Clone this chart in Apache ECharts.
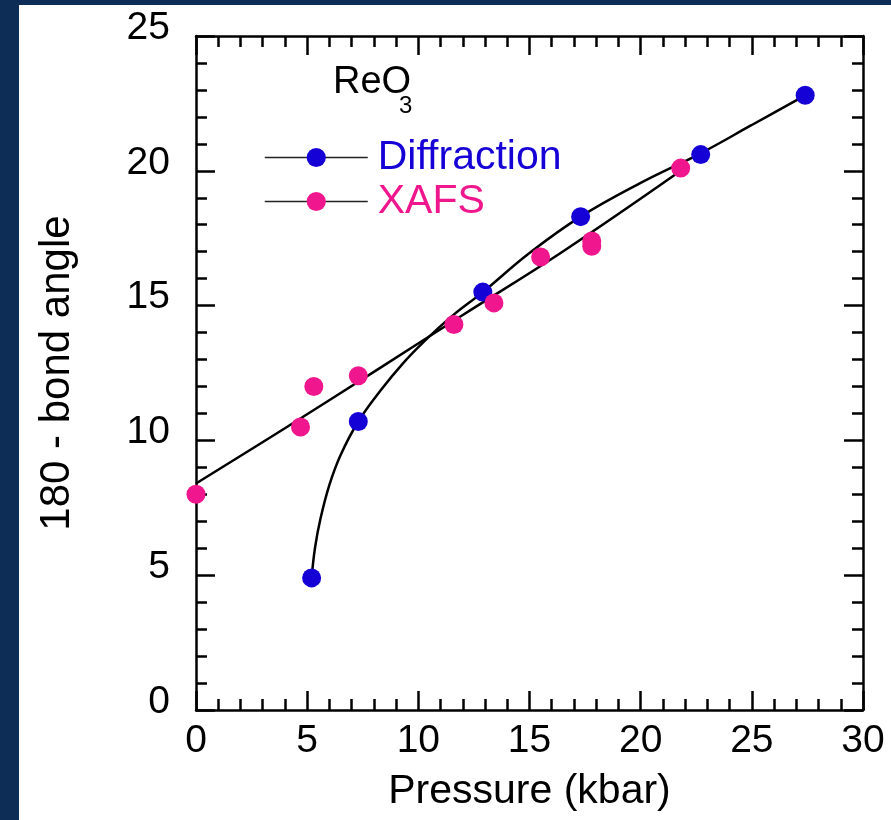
<!DOCTYPE html>
<html>
<head>
<meta charset="utf-8">
<script src="https://cdn.jsdelivr.net/npm/echarts@6/dist/echarts.min.js"></script>
<style>
  html, body { margin: 0; padding: 0; background: #0e2d56; width: 891px; height: 820px; overflow: hidden; }
  #chart { position: absolute; left: 19px; top: 5px; width: 872px; height: 815px; background: #ffffff; }
</style>
</head>
<body>
<div id="chart"></div>
<script>
// Measured points: tilt (180 - Re-O-Re bond angle) versus pressure
const diffPressure = [5.2, 7.3, 12.9, 17.3, 22.7, 27.4];
const diffAngle    = [4.9, 10.7, 15.5, 18.3, 20.6, 22.8];

const xafsPressure = [0, 4.7, 5.3, 7.3, 11.6, 13.4, 15.5, 17.8, 17.8, 21.8];
const xafsAngle    = [8.0, 10.5, 12.0, 12.4, 14.3, 15.1, 16.8, 17.4, 17.2, 20.1];

// Guide curves drawn through each data set
const diffCurvePressure = [5.2, 5.35, 5.6, 6.0, 6.5, 7.3, 8.3, 9.3, 10.3, 11.5, 12.9, 15.0, 17.3, 20.0, 22.7, 25.0, 27.4];
const diffCurveAngle    = [4.9, 6.0, 7.1, 8.35, 9.45, 10.7, 11.85, 12.85, 13.7, 14.6, 15.5, 16.95, 18.3, 19.55, 20.65, 21.7, 22.8];

const xafsCurvePressure = [0, 4, 8.3, 12, 16.4, 21.8];
const xafsCurveAngle    = [8.4, 10.45, 12.7, 14.65, 16.95, 20.0];

// Axis ranges and tick steps
const xRange = [0, 30], xStep = 5;
const yRange = [0, 25], yStep = 5;

const FONT = 'Liberation Sans, Arial, sans-serif';
const BLUE = '#1500d6';
const PINK = '#f0168d';

const zip = (xs, ys) => xs.map((x, i) => [x, ys[i]]);

function frameAxis(extra) {
  return Object.assign({
    type: 'value',
    axisLine: { show: true, onZero: false, lineStyle: { color: '#000', width: 2.5 } },
    axisTick: { show: true, inside: true, length: 19, lineStyle: { color: '#000', width: 2.5 } },
    minorTick: { show: true, splitNumber: 5, length: 11, lineStyle: { color: '#000', width: 2.5 } },
    splitLine: { show: false },
    minorSplitLine: { show: false }
  }, extra);
}

const labelStyle = { show: true, color: '#000', fontSize: 39, fontFamily: FONT };

const chart = echarts.init(document.getElementById('chart'), null, { renderer: 'canvas' });

chart.setOption({
  animation: false,
  backgroundColor: '#ffffff',
  textStyle: { fontFamily: FONT },
  grid: { left: 177, right: 28, top: 31, bottom: 110, containLabel: false },
  xAxis: [
    frameAxis({
      position: 'bottom', min: xRange[0], max: xRange[1], interval: xStep,
      axisLabel: Object.assign({ margin: 12 }, labelStyle),
      name: 'Pressure (kbar)', nameLocation: 'middle', nameGap: 61,
      nameTextStyle: { color: '#000', fontSize: 41, fontFamily: FONT }
    }),
    frameAxis({
      position: 'top', min: xRange[0], max: xRange[1], interval: xStep,
      axisLabel: { show: false }
    })
  ],
  yAxis: [
    frameAxis({
      position: 'left', min: yRange[0], max: yRange[1], interval: yStep,
      // value labels sit slightly above their ticks
      axisLabel: Object.assign({ margin: 26, verticalAlign: 'bottom', lineHeight: 16 }, labelStyle),
      name: '180 - bond angle', nameLocation: 'middle', nameGap: 118, nameRotate: 90,
      nameTextStyle: { color: '#000', fontSize: 42, fontFamily: FONT }
    }),
    frameAxis({
      position: 'right', min: yRange[0], max: yRange[1], interval: yStep,
      axisLabel: { show: false }
    })
  ],
  legend: {
    orient: 'vertical',
    left: 240, top: 127,
    itemWidth: 103, itemHeight: 24, itemGap: 3,
    selectedMode: false,
    lineStyle: { width: 1.5, color: '#222' },
    textStyle: { fontSize: 41, fontFamily: FONT, padding: [0, 0, 0, 5] },
    data: [
      { name: 'Diffraction', textStyle: { color: BLUE } },
      { name: 'XAFS', textStyle: { color: PINK } }
    ]
  },
  graphic: [
    { type: 'text', left: 314, top: 59, style: { text: 'ReO', fontSize: 38, fontFamily: FONT, fill: '#000' } },
    { type: 'text', left: 380, top: 89, style: { text: '3', fontSize: 24, fontFamily: FONT, fill: '#000' } }
  ],
  series: [
    {
      name: 'Diffraction', type: 'line', smooth: 0.4,
      data: zip(diffCurvePressure, diffCurveAngle),
      symbol: 'circle', symbolSize: 19, showSymbol: false,
      itemStyle: { color: BLUE },
      lineStyle: { color: '#000', width: 2.5 },
      emphasis: { disabled: true }, silent: true, z: 2
    },
    {
      name: 'XAFS', type: 'line', smooth: 0.4,
      data: zip(xafsCurvePressure, xafsCurveAngle),
      symbol: 'circle', symbolSize: 19, showSymbol: false,
      itemStyle: { color: PINK },
      lineStyle: { color: '#000', width: 2.5 },
      emphasis: { disabled: true }, silent: true, z: 2
    },
    {
      name: 'Diffraction', type: 'scatter',
      data: zip(diffPressure, diffAngle),
      symbol: 'circle', symbolSize: 19,
      itemStyle: { color: BLUE, opacity: 1 },
      silent: true, z: 3
    },
    {
      name: 'XAFS', type: 'scatter',
      data: zip(xafsPressure, xafsAngle),
      symbol: 'circle', symbolSize: 19,
      itemStyle: { color: PINK, opacity: 1 },
      silent: true, z: 3
    }
  ]
});
</script>
</body>
</html>
